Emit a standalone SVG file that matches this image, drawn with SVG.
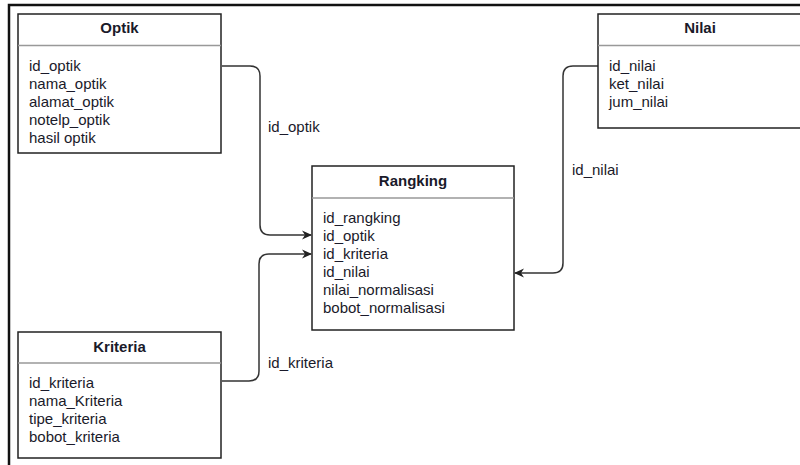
<svg xmlns="http://www.w3.org/2000/svg" width="800" height="465" viewBox="0 0 800 465">
<defs>
<style>
.box{fill:#fff;stroke:#222;stroke-width:1.5}
.div{stroke:#999;stroke-width:1.5}
.t{font-family:"Liberation Sans",Arial,sans-serif;font-size:15px;fill:#1a1a2a}
.h{font-weight:bold;text-anchor:middle}
.c{fill:none;stroke:#333;stroke-width:1.5}
</style>
<marker id="arr" viewBox="0 0 10 10" refX="9" refY="5" markerWidth="10" markerHeight="10" markerUnits="userSpaceOnUse" orient="auto">
<path d="M0,0.5 L10,5 L0,9.5 L3,5 Z" fill="#222"/>
</marker>
</defs>
<rect width="800" height="465" fill="#fff"/>
<path d="M9,465 V5 H800" fill="none" stroke="#111" stroke-width="2.5"/>
<g id="connectors">
<path class="c" d="M222,66 H250 Q260,66 260,76 V225 Q260,235 270,235 H311" marker-end="url(#arr)"/>
<path class="c" d="M222,381 H249 Q259,381 259,371 V264 Q259,254 269,254 H311" marker-end="url(#arr)"/>
<path class="c" d="M598,66 H573 Q563,66 563,76 V263 Q563,273 553,273 H515" marker-end="url(#arr)"/>
<text class="t" x="268" y="132">id_optik</text>
<text class="t" x="268" y="368">id_kriteria</text>
<text class="t" x="572" y="175">id_nilai</text>
</g>
<g id="optik">
<rect class="box" x="18" y="14" width="203" height="139"/>
<line class="div" x1="18" y1="45.5" x2="221" y2="45.5"/>
<text class="t h" x="119.5" y="33">Optik</text>
<text class="t" x="29" y="71">id_optik</text>
<text class="t" x="29" y="89">nama_optik</text>
<text class="t" x="29" y="107">alamat_optik</text>
<text class="t" x="29" y="125">notelp_optik</text>
<text class="t" x="29" y="143">hasil optik</text>
</g>
<g id="nilai">
<rect class="box" x="598" y="14" width="204" height="114"/>
<line class="div" x1="598" y1="45.5" x2="802" y2="45.5"/>
<text class="t h" x="700" y="33">Nilai</text>
<text class="t" x="609" y="71">id_nilai</text>
<text class="t" x="609" y="89">ket_nilai</text>
<text class="t" x="609" y="107">jum_nilai</text>
</g>
<g id="rangking">
<rect class="box" x="312" y="166" width="202" height="164"/>
<line class="div" x1="312" y1="198" x2="514" y2="198"/>
<text class="t h" x="413" y="186">Rangking</text>
<text class="t" x="323" y="223">id_rangking</text>
<text class="t" x="323" y="241">id_optik</text>
<text class="t" x="323" y="259">id_kriteria</text>
<text class="t" x="323" y="277">id_nilai</text>
<text class="t" x="323" y="295">nilai_normalisasi</text>
<text class="t" x="323" y="313">bobot_normalisasi</text>
</g>
<g id="kriteria">
<rect class="box" x="18" y="332" width="203" height="126"/>
<line class="div" x1="18" y1="363" x2="221" y2="363"/>
<text class="t h" x="119.5" y="352">Kriteria</text>
<text class="t" x="29" y="388">id_kriteria</text>
<text class="t" x="29" y="406">nama_Kriteria</text>
<text class="t" x="29" y="424">tipe_kriteria</text>
<text class="t" x="29" y="442">bobot_kriteria</text>
</g>
</svg>
